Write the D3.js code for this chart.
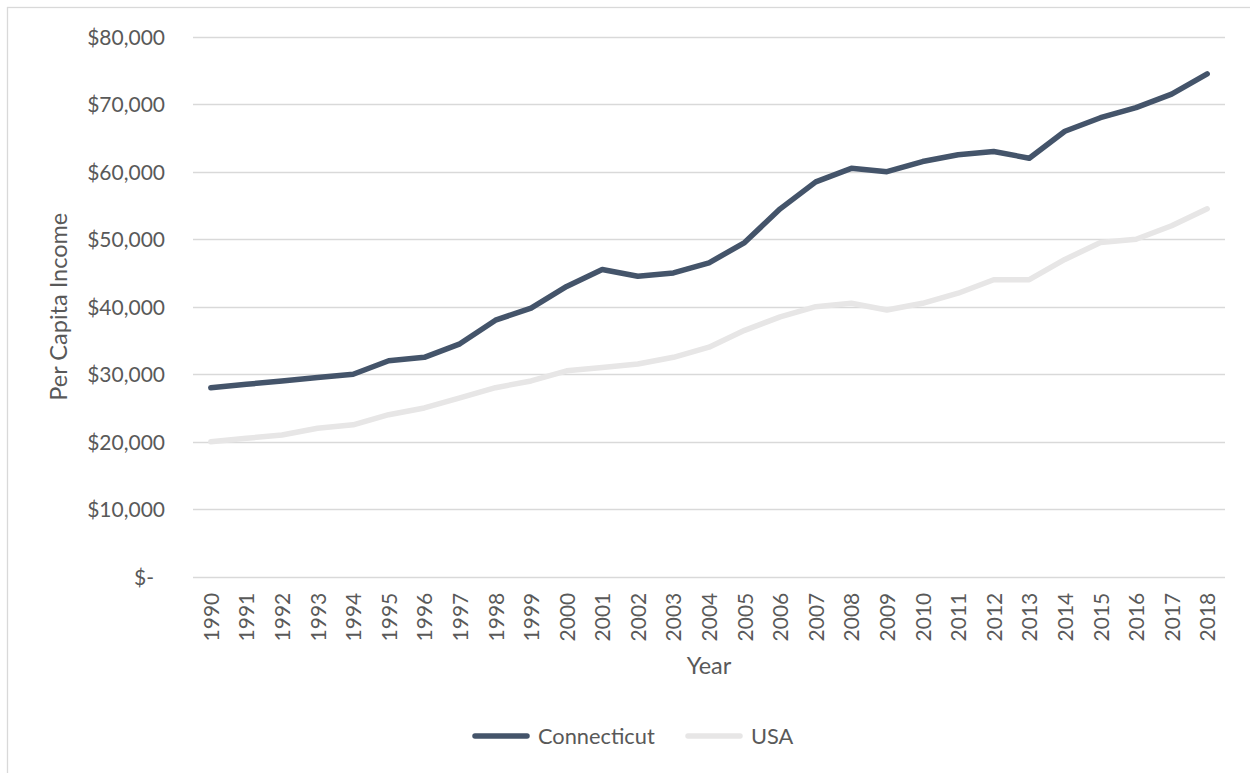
<!DOCTYPE html>
<html>
<head>
<meta charset="utf-8">
<script src="https://cdn.jsdelivr.net/npm/d3@7"></script>
<style>
  html, body { margin: 0; padding: 0; background: #fff; overflow: hidden; }
  svg { display: block; font-family: Lato, "Open Sans", sans-serif; }
</style>
</head>
<body>
<svg id="chart" width="1250" height="773"></svg>
<script>
// Per capita income, 1990–2018
const years = [1990, 1991, 1992, 1993, 1994, 1995, 1996, 1997, 1998, 1999,
               2000, 2001, 2002, 2003, 2004, 2005, 2006, 2007, 2008, 2009,
               2010, 2011, 2012, 2013, 2014, 2015, 2016, 2017, 2018];
const connecticut = [28000, 28500, 29000, 29500, 30000, 32000, 32500, 34500, 38000, 39800,
                     43000, 45500, 44500, 45000, 46500, 49500, 54500, 58500, 60500, 60000,
                     61500, 62500, 63000, 62000, 66000, 68000, 69500, 71500, 74500];
const usa = [20000, 20500, 21000, 22000, 22500, 24000, 25000, 26500, 28000, 29000,
             30500, 31000, 31500, 32500, 34000, 36500, 38500, 40000, 40500, 39500,
             40500, 42000, 44000, 44000, 47000, 49500, 50000, 52000, 54500];
const yTicks = [0, 10000, 20000, 30000, 40000, 50000, 60000, 70000, 80000];
const seriesNames = ["Connecticut", "USA"];
const seriesColors = ["#44546A", "#E7E6E6"];

const series = [
  { name: seriesNames[0], values: connecticut, color: seriesColors[0] },
  { name: seriesNames[1], values: usa, color: seriesColors[1] }
];

const svg = d3.select("#chart");
const textColor = "#595959";

// outer chart frame (runs past the right and bottom edges)
svg.append("rect")
  .attr("x", 7.5).attr("y", 7.5)
  .attr("width", 1260).attr("height", 780)
  .attr("fill", "#fff")
  .attr("stroke", "#D9D9D9").attr("stroke-width", 1.3);

const plot = { left: 193, right: 1225, top: 36.7, bottom: 576.7 };

const x = d3.scalePoint()
  .domain(years)
  .range([plot.left, plot.right])
  .padding(0.5);

const y = d3.scaleLinear()
  .domain([0, 80000])
  .range([plot.bottom, plot.top]);

const moneyFmt = d3.format(",");

// horizontal gridlines
svg.append("g")
  .selectAll("line")
  .data(yTicks)
  .join("line")
  .attr("x1", plot.left).attr("x2", plot.right)
  .attr("y1", d => Math.round(y(d)) + 0.5)
  .attr("y2", d => Math.round(y(d)) + 0.5)
  .attr("stroke", "#D9D9D9")
  .attr("stroke-width", 1.3);

// y axis labels
const yAxis = d3.axisLeft(y)
  .tickValues(yTicks)
  .tickSize(0)
  .tickPadding(0)
  .tickFormat(d => d === 0 ? "$-" : "$" + moneyFmt(d));

svg.append("g")
  .attr("transform", `translate(${plot.left - 28},0)`)
  .call(yAxis)
  .call(g => g.select(".domain").remove())
  .call(g => g.selectAll("text")
    .attr("fill", textColor)
    .attr("font-size", 21)
    .attr("font-family", "Lato, sans-serif")
    .attr("dy", "0.35em")
    .attr("dx", d => d === 0 ? -11 : 0));

// x axis labels (rotated years)
const xAxis = d3.axisBottom(x).tickSize(0).tickPadding(0);
svg.append("g")
  .attr("transform", `translate(0,${plot.bottom})`)
  .call(xAxis)
  .call(g => g.select(".domain").remove())
  .call(g => g.selectAll("text")
    .attr("fill", textColor)
    .attr("font-size", 21)
    .attr("font-family", "Lato, sans-serif")
    .attr("transform", "rotate(-90)")
    .attr("text-anchor", "end")
    .attr("x", -16)
    .attr("y", 0)
    .attr("dy", "0.36em"));

// series lines
const line = d3.line()
  .x((d, i) => x(years[i]))
  .y(d => y(d));

svg.append("g")
  .selectAll("path")
  .data(series.slice().reverse())
  .join("path")
  .attr("d", d => line(d.values))
  .attr("fill", "none")
  .attr("stroke", d => d.color)
  .attr("stroke-width", 5.5)
  .attr("stroke-linejoin", "round")
  .attr("stroke-linecap", "round");

// axis titles
svg.append("text")
  .attr("transform", `translate(59,${(plot.top + plot.bottom) / 2}) rotate(-90)`)
  .attr("text-anchor", "middle")
  .attr("dy", "0.35em")
  .attr("fill", textColor)
  .attr("font-size", 23.5)
  .text("Per Capita Income");

svg.append("text")
  .attr("x", (plot.left + plot.right) / 2)
  .attr("y", 666)
  .attr("text-anchor", "middle")
  .attr("dy", "0.35em")
  .attr("fill", textColor)
  .attr("font-size", 23.5)
  .text("Year");

// legend
const legendY = 736;
const legendX = [473, 686];
const legend = svg.append("g")
  .selectAll("g")
  .data(series)
  .join("g")
  .attr("transform", (d, i) => `translate(${legendX[i]},${legendY})`);

legend.append("line")
  .attr("x1", 2).attr("x2", 54)
  .attr("y1", 0).attr("y2", 0)
  .attr("stroke", d => d.color)
  .attr("stroke-width", 5.5)
  .attr("stroke-linecap", "round");

legend.append("text")
  .attr("x", 65)
  .attr("dy", "0.35em")
  .attr("fill", textColor)
  .attr("font-size", 21.8)
  .text(d => d.name);
</script>
</body>
</html>
